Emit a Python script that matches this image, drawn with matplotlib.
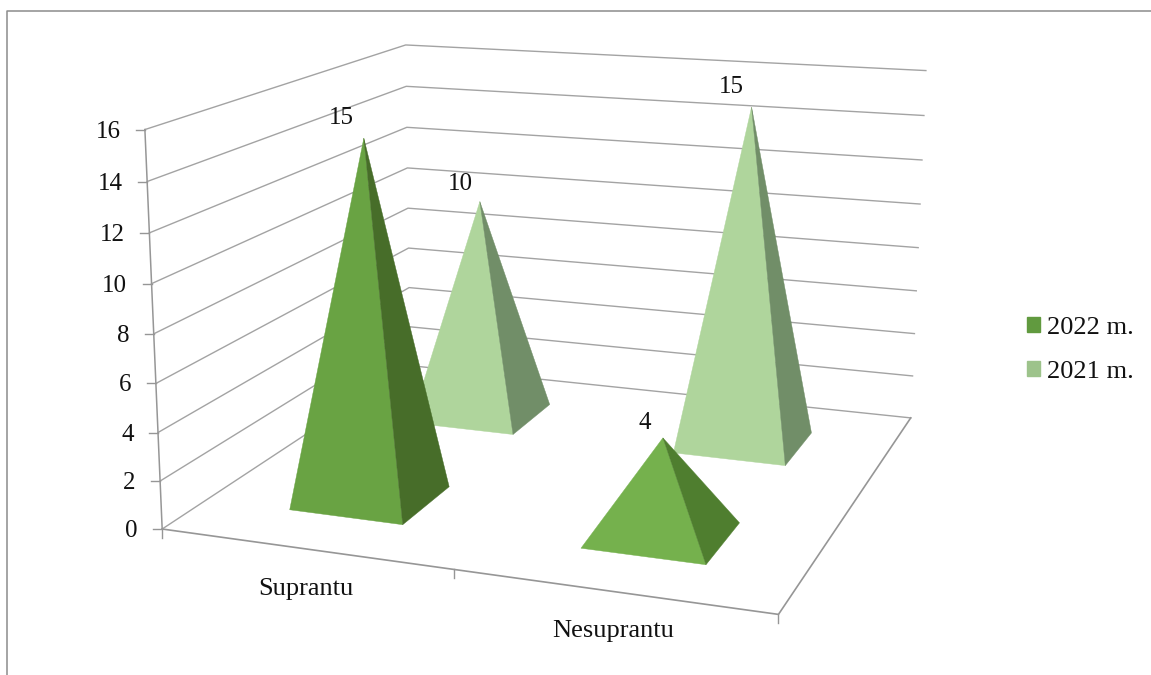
import numpy as np
from matplotlib import pyplot as plt
from matplotlib.patches import Patch

plt.rcParams["font.family"] = ["Liberation Serif", "DejaVu Serif"]

categories = ["Suprantu", "Nesuprantu"]
series_names = ["2022 m.", "2021 m."]
values_2022 = [15, 4]
values_2021 = [10, 15]
y_ticks = [0, 2, 4, 6, 8, 10, 12, 14, 16]

# fake 3d box: (category, depth, value) -> picture position, fitted from the box corners
box_world = np.array([(0, 0, 0), (2, 0, 0), (2, 1, 0), (0, 1, 0),
                      (0, 0, 16), (0, 1, 16), (2, 1, 16)], dtype=float)
box_pixel = np.array([(162.5, 529), (778, 615), (911, 417), (410, 366),
                      (145, 129), (405.5, 45), (926, 71)], dtype=float)

rows = []
rhs = []
for (wx, wy, wz), (px, py) in zip(box_world, box_pixel):
    rows.append([wx, wy, wz, 1, 0, 0, 0, 0, -px * wx, -px * wy, -px * wz])
    rows.append([0, 0, 0, 0, wx, wy, wz, 1, -py * wx, -py * wy, -py * wz])
    rhs += [px, py]
cam = np.linalg.lstsq(np.array(rows), np.array(rhs), rcond=None)[0]
cam = np.append(cam, 1).reshape(3, 4)


def project(x, y, z):
    p = cam @ np.array([x, y, z, 1.0])
    return p[0] / p[2], p[1] / p[2]


fig = plt.figure(figsize=(11.51, 6.75), dpi=100)
ax = fig.add_axes([0, 0, 1, 1])
ax.set_xlim(0, 1151)
ax.set_ylim(675, 0)
ax.axis("off")

font_size = 19
num_size = 18
text_col = "#111111"

# outer frame of the chart
ax.plot([7.5, 7.5, 1151], [675, 11, 11], color="#8c8c8c", lw=1.1, zorder=1)

grid_col = "#a3a3a3"
axis_col = "#969696"
for t in y_ticks:
    pts = [project(0, 0, t), project(0, 1, t), project(2, 1, t)]
    ax.plot(*zip(*pts), color=grid_col, lw=1.0, zorder=2)
    x0, y0 = project(0, 0, t)
    ax.plot([x0 - 9, x0], [y0, y0], color=axis_col, lw=1.0, zorder=2)
    ax.text(x0 - 24.5, y0 + 2, str(t), fontsize=num_size, ha="right", va="center", color=text_col)

ax.plot(*zip(project(0, 0, 0), project(0, 0, 16)), color=axis_col, lw=1.1, zorder=2)
ax.plot(*zip(project(0, 0, 0), project(2, 0, 0), project(2, 1, 0)), color=axis_col, lw=1.2, zorder=2)
for c in range(3):
    x0, y0 = project(c, 0, 0)
    ax.plot([x0, x0], [y0, y0 + 9], color=axis_col, lw=1.0, zorder=2)

half_x = 0.2
half_y = 0.098
depths = [0.25, 0.75]
face_cols = {(0, 0): "#69a343", (1, 0): "#75b14d", (0, 1): "#afd59c", (1, 1): "#afd59c"}
side_cols = {(0, 0): "#476d29", (1, 0): "#4f7e2f", (0, 1): "#718e68", (1, 1): "#718e68"}
label_offsets = {(0, 0): (-22, -20), (1, 0): (-18, -15), (0, 1): (-20, -18), (1, 1): (-20, -20)}

# back series first so the front pyramids cover it
for s, vals in reversed(list(enumerate([values_2022, values_2021]))):
    for c, v in enumerate(vals):
        cx = c + 0.5
        cy = depths[s]
        apex = project(cx, cy, v)
        fl = project(cx - half_x, cy - half_y, 0)
        fr = project(cx + half_x, cy - half_y, 0)
        br = project(cx + half_x, cy + half_y, 0)
        z = 5 + (1 - s)
        ax.fill(*zip(apex, fl, fr), color=face_cols[(c, s)], lw=0.3, zorder=z)
        ax.fill(*zip(apex, fr, br), color=side_cols[(c, s)], lw=0.3, zorder=z)
        dx, dy = label_offsets[(c, s)]
        ax.text(apex[0] + dx, apex[1] + dy, str(v), fontsize=num_size, ha="center", va="center",
                color=text_col, zorder=8)

ax.text(306, 589, categories[0], fontsize=font_size, ha="center", va="center", color=text_col)
ax.text(613, 631, categories[1], fontsize=font_size, ha="center", va="center", color=text_col)

handles = [Patch(color="#619a3f", label=series_names[0]), Patch(color="#9dc38b", label=series_names[1])]
ax.legend(handles=handles, loc="upper left", bbox_to_anchor=(1019 / 1151, 1 - 309 / 675), frameon=False,
          fontsize=font_size, handlelength=0.49, handleheight=0.49, handletextpad=0.27, labelspacing=0.84,
          borderpad=0.3, borderaxespad=0, labelcolor=text_col)

plt.savefig("out.png", dpi=100)
